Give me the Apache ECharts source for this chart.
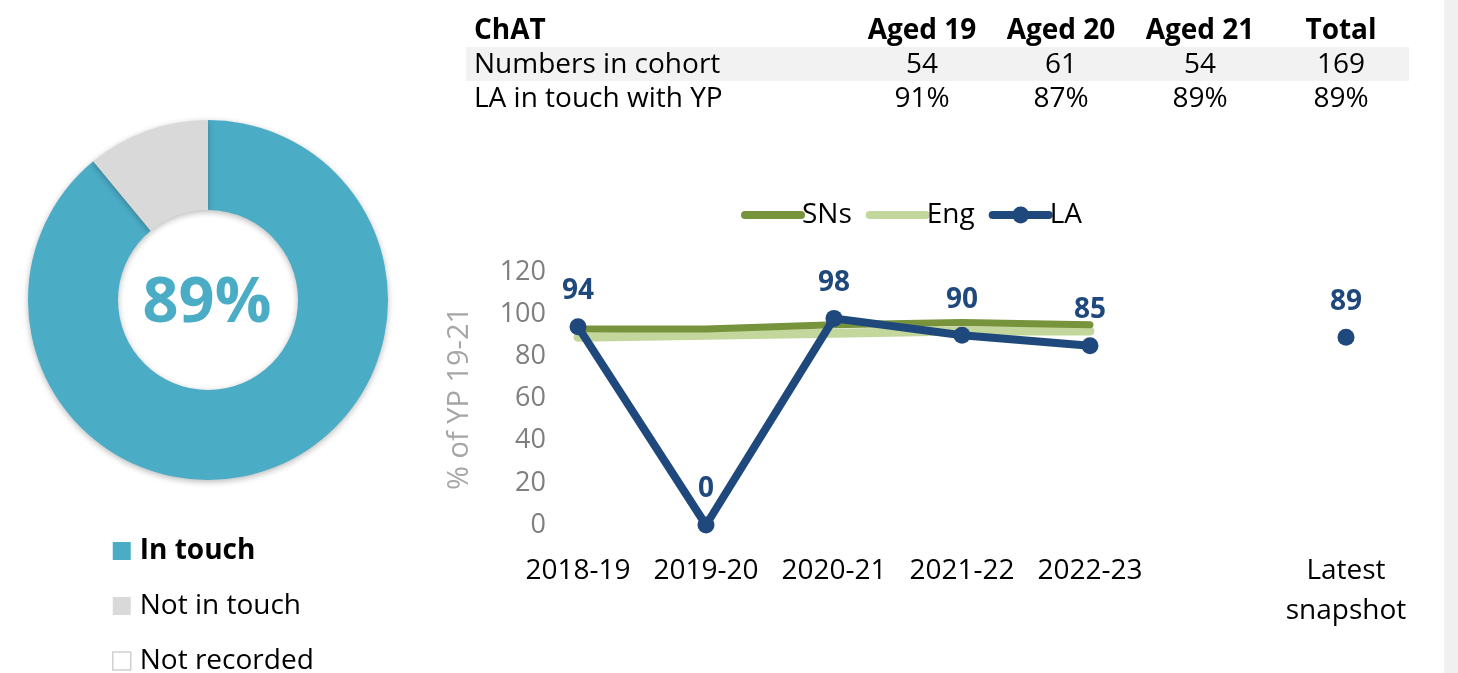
<!DOCTYPE html>
<html>
<head>
<meta charset="utf-8">
<title>ChAT – LA in touch with YP</title>
<script src="https://cdn.jsdelivr.net/npm/echarts@6/dist/echarts.min.js"></script>
<style>
  html, body { margin: 0; padding: 0; background: #ffffff; }
  #chart { width: 1458px; height: 673px; }
</style>
</head>
<body>
<div id="chart"></div>
<script>
// Cohort table
const tableTitle = 'ChAT';
const tableColumns = ['Aged 19', 'Aged 20', 'Aged 21', 'Total'];
const cohortLabel = 'Numbers in cohort';
const cohortNumbers = [54, 61, 54, 169];
const inTouchLabel = 'LA in touch with YP';
const inTouchRates = ['91%', '87%', '89%', '89%'];

// Donut: share of young people the LA is in touch with
const donutNames = ['In touch', 'Not in touch', 'Not recorded'];
const donutValues = [89, 11, 0];

// Trend lines (% of YP 19-21)
const years = ['2018-19', '2019-20', '2020-21', '2021-22', '2022-23', '', 'Latest\nsnapshot'];
const snsValues = [93, 93, 95, 96, 95, null, null];
const engValues = [89, 90, 91, 92, 92, null, null];
const laValues = [94, 0, 98, 90, 85, null, 89];

const FONT = "'Open Sans', 'Noto Sans', sans-serif";
const C_TEAL = '#4BACC6';
const C_GREY = '#D9D9D9';
const C_NAVY = '#1F497D';
const C_SNS = '#77933C';
const C_ENG = '#C3D69B';

const colX = [922, 1061, 1200, 1341];
const rowY = [31, 65, 99];
const HEAD_FONT = `bold 28px ${FONT}`;
const BODY_FONT = `28px ${FONT}`;

const tableGraphics = [
  { type: 'rect', shape: { x: 466, y: 47, width: 943, height: 34 }, style: { fill: '#F2F2F2' }, z: 0 },
  { type: 'rect', shape: { x: 1444, y: 0, width: 14, height: 673 }, style: { fill: '#F0F0F0' }, z: 0 },
  { type: 'text', x: 474, y: rowY[0], style: { text: tableTitle, font: HEAD_FONT, fill: '#000', textVerticalAlign: 'middle' }, z: 2 },
  { type: 'text', x: 474, y: rowY[1], style: { text: cohortLabel, font: BODY_FONT, fill: '#000', textVerticalAlign: 'middle' }, z: 2 },
  { type: 'text', x: 474, y: rowY[2], style: { text: inTouchLabel, font: BODY_FONT, fill: '#000', textVerticalAlign: 'middle' }, z: 2 }
];
tableColumns.forEach((c, i) => {
  tableGraphics.push({ type: 'text', x: colX[i], y: rowY[0], style: { text: c, font: HEAD_FONT, fill: '#000', textAlign: 'center', textVerticalAlign: 'middle' }, z: 2 });
  tableGraphics.push({ type: 'text', x: colX[i], y: rowY[1], style: { text: String(cohortNumbers[i]), font: BODY_FONT, fill: '#000', textAlign: 'center', textVerticalAlign: 'middle' }, z: 2 });
  tableGraphics.push({ type: 'text', x: colX[i], y: rowY[2], style: { text: inTouchRates[i], font: BODY_FONT, fill: '#000', textAlign: 'center', textVerticalAlign: 'middle' }, z: 2 });
});
// Headline figure in the donut hole
tableGraphics.push({
  type: 'text', x: 207, y: 304,
  style: { text: donutValues[0] + '%', font: `bold 63px ${FONT}`, fill: C_TEAL, textAlign: 'center', textVerticalAlign: 'middle' },
  z: 5
});

const chart = echarts.init(document.getElementById('chart'), null, { renderer: 'canvas' });

const hiddenMarker = { color: 'rgba(0,0,0,0)', borderWidth: 0, opacity: 0 };

chart.setOption({
  animation: false,
  backgroundColor: '#ffffff',
  textStyle: { fontFamily: FONT },
  graphic: tableGraphics,
  legend: [
    {
      id: 'donutLegend',
      orient: 'vertical',
      left: 112,
      top: 537,
      height: 200,
      padding: 0,
      icon: 'rect',
      itemWidth: 18,
      itemHeight: 18,
      itemGap: 27,
      selectedMode: false,
      textStyle: { fontSize: 28, color: '#000', lineHeight: 26, fontFamily: FONT, padding: [0, 0, 0, 4] },
      data: [
        { name: donutNames[0], textStyle: { fontWeight: 'bold' } },
        { name: donutNames[1] },
        { name: donutNames[2], itemStyle: { color: '#FFFFFF', borderColor: '#D0D0D0', borderWidth: 1.5 } }
      ]
    },
    {
      id: 'lineLegend',
      left: 741,
      top: 201,
      padding: 0,
      itemWidth: 56,
      itemHeight: 21,
      itemGap: 14,
      selectedMode: false,
      textStyle: { fontSize: 28, color: '#000', fontFamily: FONT, padding: [0, 0, 0, -4] },
      lineStyle: { width: 8, cap: 'round' },
      data: [
        { name: 'SNs', itemStyle: hiddenMarker },
        { name: 'Eng', itemStyle: hiddenMarker },
        { name: 'LA' }
      ]
    }
  ],
  grid: { left: 514, right: 48, top: 272, bottom: 148, containLabel: false },
  xAxis: {
    type: 'category',
    data: years,
    boundaryGap: true,
    axisLine: { show: false },
    axisTick: { show: false },
    splitLine: { show: false },
    axisLabel: { color: '#000', fontSize: 28, lineHeight: 40, margin: 26, interval: 0, fontFamily: FONT }
  },
  yAxis: {
    type: 'value',
    min: 0,
    max: 120,
    interval: 20,
    name: '% of YP 19-21',
    nameLocation: 'middle',
    nameGap: 40,
    nameTextStyle: { color: '#A6A6A6', fontSize: 29, fontFamily: FONT },
    axisLine: { show: false },
    axisTick: { show: false },
    splitLine: { show: false },
    axisLabel: { color: '#7F7F7F', fontSize: 27, margin: -32, fontFamily: FONT }
  },
  series: [
    {
      type: 'pie',
      name: 'Contact',
      center: [208, 300],
      radius: [90, 180],
      startAngle: 90,
      clockwise: true,
      avoidLabelOverlap: false,
      label: { show: false },
      labelLine: { show: false },
      emphasis: { disabled: true },
      itemStyle: { shadowBlur: 6, shadowColor: 'rgba(0,0,0,0.28)', shadowOffsetY: 2 },
      data: [
        { name: donutNames[0], value: donutValues[0], itemStyle: { color: C_TEAL } },
        { name: donutNames[1], value: donutValues[1], itemStyle: { color: C_GREY } },
        { name: donutNames[2], value: donutValues[2], itemStyle: { color: '#FFFFFF' } }
      ]
    },
    {
      type: 'line',
      name: 'Eng',
      data: engValues,
      symbol: 'none',
      z: 2,
      color: C_ENG,
      lineStyle: { color: C_ENG, width: 9, cap: 'round' },
      emphasis: { disabled: true }
    },
    {
      type: 'line',
      name: 'SNs',
      data: snsValues,
      symbol: 'none',
      z: 3,
      color: C_SNS,
      lineStyle: { color: C_SNS, width: 7, cap: 'round' },
      emphasis: { disabled: true }
    },
    {
      type: 'line',
      name: 'LA',
      data: laValues,
      symbol: 'circle',
      symbolSize: 17,
      showAllSymbol: true,
      connectNulls: false,
      z: 4,
      color: C_NAVY,
      itemStyle: { color: C_NAVY },
      lineStyle: { color: C_NAVY, width: 8, cap: 'round', join: 'round' },
      emphasis: { disabled: true },
      label: {
        show: true,
        position: 'top',
        distance: 13,
        color: C_NAVY,
        fontSize: 28,
        fontWeight: 'bold',
        fontFamily: FONT
      }
    }
  ]
});
</script>
</body>
</html>
